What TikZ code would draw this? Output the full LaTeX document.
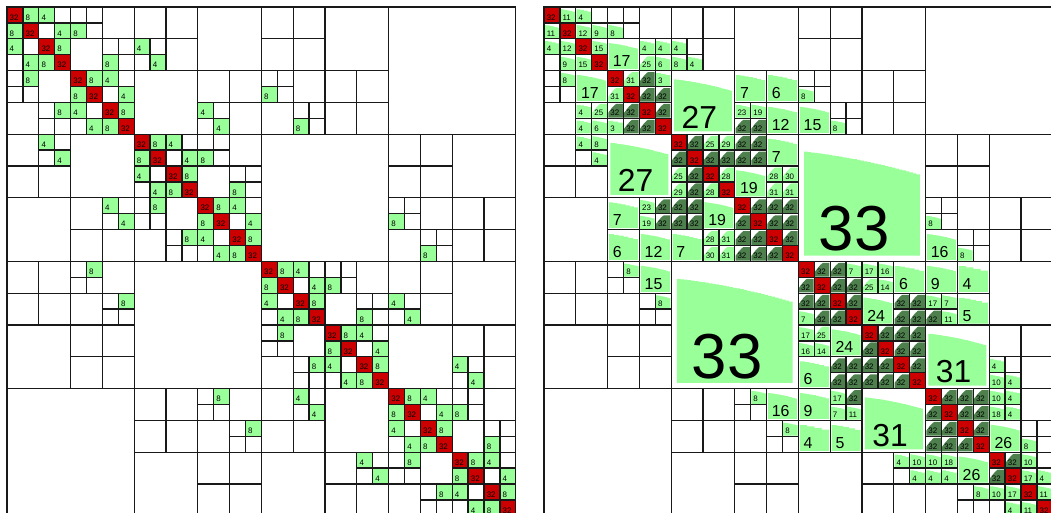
\documentclass[tikz,border=0pt]{standalone}
\usepackage{fontspec}
\setmainfont{Liberation Sans}
\definecolor{hred}{RGB}{204,0,0}
\definecolor{hlg}{RGB}{153,255,153}
\definecolor{hdg}{RGB}{77,128,77}
\newif\ifbpass
\newcounter{hlc}
\tikzset{blk/.style={draw=black!90, line width=1.3pt}}
\def\hWtok{W}\def\hDtok{D}
% label: row, col, size, text
\newcommand\hlabel[4]{\stepcounter{hlc}%
  \pgfmathsetmacro\hfs{7.95*#3}%
  \node[anchor=base west, inner sep=0pt, font=\fontsize{\hfs}{\hfs}\selectfont] (lbl\number\value{hlc}) at ({#2+0.16*#3},{#1+0.93*#3-0.1}) {#4};}
% white block
\newcommand\hW[3]{\ifbpass\draw[blk] (#2,#1) rectangle ++(#3,#3);\fi}
% red dense cell on the diagonal
\newcommand\hR[1]{\ifbpass\draw[blk] (#1,#1) rectangle ++(1,1);\hlabel{#1}{#1}{1}{32}\else\fill[hred] (#1,#1) rectangle ++(1,1);\fi}
% fully green cell (left matrix)
\newcommand\hF[3]{\ifbpass\draw[blk] (#2,#1) rectangle ++(1,1);\hlabel{#1}{#2}{1}{#3}\else\fill[hlg] (#2,#1) rectangle ++(1,1);\fi}
% bar-chart green block: row col size rank
\newcommand\hgtop[1]{(0.136+0.184*(0.55*(\hi-0.5)/#1+0.45*((\hi-0.5)/#1)^2))}
\newcommand\hrtop[1]{(0.1+0.55*(max(0,1-((\hi-0.5)/#1)/0.55))^1.3)}
\newcommand\hG[4]{\ifbpass\draw[blk] (#2,#1) rectangle ++(#3,#3);\hlabel{#1}{#2}{#3}{#4}\else
  \ifnum#3=1 \ifnum#4>24 \let\htop\hrtop\else\let\htop\hgtop\fi\else\let\htop\hgtop\fi
  \fill[hlg] ({#2+0.045*#3},{#1+0.955*#3}) \foreach \hi in {1,...,#4}{ -- ({#2+#3*(0.045+0.91*(\hi-1)/#4)},{#1+#3*\htop{#4}}) -- ({#2+#3*(0.045+0.91*\hi/#4)},{#1+#3*\htop{#4}}) } -- ({#2+0.955*#3},{#1+0.955*#3}) -- cycle;\fi}
% dark full-rank cell: rising profile, white corner at upper left
\newcommand\hD[2]{\ifbpass\draw[blk] (#2,#1) rectangle ++(1,1);\hlabel{#1}{#2}{1}{32}\else
  \fill[hdg] ({#2+0.045},{#1+0.955}) \foreach \hi in {1,...,32}{ -- ({#2+0.045+0.91*(\hi-1)/32},{#1+\hrtop{32}}) -- ({#2+0.045+0.91*\hi/32},{#1+\hrtop{32}}) } -- ({#2+0.955},{#1+0.955}) -- cycle;\fi}
% symmetric wrappers
\newcommand\sW[3]{\hW{#1}{#2}{#3}\hW{#2}{#1}{#3}}
\newcommand\sG[4]{\hG{#1}{#2}{#3}{#4}\hG{#2}{#1}{#3}{#4}}
\newcommand\sF[3]{\hF{#1}{#2}{#3}\hF{#2}{#1}{#3}}
\newcommand\sD[2]{\hD{#1}{#2}\hD{#2}{#1}}
\newcommand\hNumL[3]{\sF{#1}{#2}{#3}}
\newcommand\hNumR[3]{\sG{#1}{#2}{1}{#3}}
\newcommand\sCell[3]{\def\hv{#3}\ifx\hv\hWtok\sW{#1}{#2}{1}\else\ifx\hv\hDtok\sD{#1}{#2}\else\hNum{#1}{#2}{#3}\fi\fi}
\newcommand\sQ[6]{\sCell{#1}{#2}{#3}\sCell{#1}{#2+1}{#4}\sCell{#1+1}{#2}{#5}\sCell{#1+1}{#2+1}{#6}}
\newcommand\sB[4]{\def\hv{#4}\ifx\hv\hWtok\sW{#1}{#2}{#3}\else\sG{#1}{#2}{#3}{#4}\fi}
\newcommand\Diag[7]{\hR{#1}\hR{#1+1}\hR{#1+2}\hR{#1+3}%
  \sCell{#1}{#1+1}{#2}\sCell{#1}{#1+2}{#3}\sCell{#1}{#1+3}{#4}%
  \sCell{#1+1}{#1+2}{#5}\sCell{#1+1}{#1+3}{#6}\sCell{#1+2}{#1+3}{#7}}
\newcommand\Pat[3]{\sB{#1}{#2}{2}{W}\sB{#1}{#2+2}{2}{W}\sB{#1+2}{#2}{2}{W}\sB{#1+2}{#2+2}{2}{W}%
  \sB{#1+4}{#2+2}{2}{W}\sB{#1+4}{#2+4}{2}{W}\sB{#1+4}{#2+6}{2}{W}\sB{#1+6}{#2}{2}{#3}%
  \sB{#1+6}{#2+4}{2}{W}\sB{#1+6}{#2+6}{2}{W}\sB{#1}{#2+4}{4}{W}%
  \sQ{#1+4}{#2}{W}{W}{8}{W}\sQ{#1+6}{#2+2}{W}{W}{8}{W}}
\newcommand\LeftM{%
  \foreach \hd in {0,4,...,28}{\Diag{\hd}{8}{4}{W}{W}{4}{8}}%
  \foreach \hq in {0,16}{%
    \sQ{\hq}{\hq+4}{W}{W}{8}{W}\sQ{\hq+2}{\hq+6}{W}{W}{8}{W}\sQ{\hq+2}{\hq+8}{4}{W}{W}{4}%
    \sQ{\hq+6}{\hq+12}{4}{W}{W}{4}\sQ{\hq+8}{\hq+12}{W}{W}{8}{W}\sQ{\hq+10}{\hq+14}{W}{W}{8}{W}%
    \foreach \ha/\hb in {0/6,2/4,0/8,0/10,2/10,4/12,4/14,6/14,8/14,10/12}{\sW{\hq+\ha}{\hq+\hb}{2}}%
    \sW{\hq}{\hq+12}{4}\sW{\hq+4}{\hq+8}{4}}%
  \Pat{0}{16}{W}\Pat{8}{24}{W}\sW{0}{24}{8}\sW{8}{16}{8}}
\newcommand\RightM{%
  \Diag{0}{11}{4}{W}{12}{9}{15}\Diag{4}{31}{D}{3}{D}{D}{D}\Diag{8}{D}{25}{29}{D}{D}{28}%
  \Diag{12}{D}{D}{D}{D}{D}{D}\Diag{16}{D}{D}{7}{D}{D}{D}\Diag{20}{D}{D}{D}{D}{D}{D}%
  \Diag{24}{D}{D}{D}{D}{D}{D}\Diag{28}{D}{10}{W}{17}{4}{11}%
  \sQ{0}{4}{W}{W}{8}{W}\sQ{2}{6}{4}{4}{25}{6}\sQ{2}{8}{4}{W}{8}{4}%
  \sQ{6}{12}{23}{19}{D}{D}\sQ{8}{12}{D}{D}{D}{D}\sQ{10}{14}{28}{30}{31}{31}%
  \sB{0}{6}{2}{W}\sB{2}{4}{2}{17}\sB{0}{8}{2}{W}\sB{0}{10}{2}{W}\sB{2}{10}{2}{W}%
  \sB{4}{12}{2}{7}\sB{4}{14}{2}{6}\sB{6}{14}{2}{12}\sB{8}{14}{2}{7}\sB{10}{12}{2}{19}%
  \sB{0}{12}{4}{W}\sB{4}{8}{4}{27}%
  \sQ{16}{20}{17}{16}{25}{14}\sQ{18}{22}{D}{D}{D}{D}\sQ{18}{24}{17}{7}{D}{11}%
  \sQ{22}{28}{4}{W}{10}{4}\sQ{24}{28}{10}{4}{18}{4}\sQ{26}{30}{W}{W}{8}{W}%
  \sB{16}{22}{2}{6}\sB{18}{20}{2}{24}\sB{16}{24}{2}{9}\sB{16}{26}{2}{4}\sB{18}{26}{2}{5}%
  \sB{20}{28}{2}{W}\sB{20}{30}{2}{W}\sB{22}{30}{2}{W}\sB{24}{30}{2}{W}\sB{26}{28}{2}{26}%
  \sB{16}{28}{4}{W}\sB{20}{24}{4}{31}%
  \Pat{0}{16}{15}\Pat{8}{24}{16}\sB{0}{24}{8}{W}\sB{8}{16}{8}{33}}
\begin{document}
\begin{tikzpicture}[x=1pt,y=1pt]
\useasboundingbox (0,0) rectangle (1051,-513);
\fill[white] (0,0) rectangle (1051,-513);
\begin{scope}
\clip (0,0) rectangle (1051,-513);
\begin{scope}[shift={(7pt,-7pt)}, x=15.9pt, y=-15.9pt]
  \let\hNum\hNumL
  \bpassfalse\LeftM
  \bpasstrue\LeftM
\end{scope}
\begin{scope}[shift={(544pt,-7pt)}, x=15.9pt, y=-15.9pt]
  \let\hNum\hNumR
  \bpassfalse\RightM
  \bpasstrue\RightM
\end{scope}
\end{scope}
\end{tikzpicture}
\end{document}
